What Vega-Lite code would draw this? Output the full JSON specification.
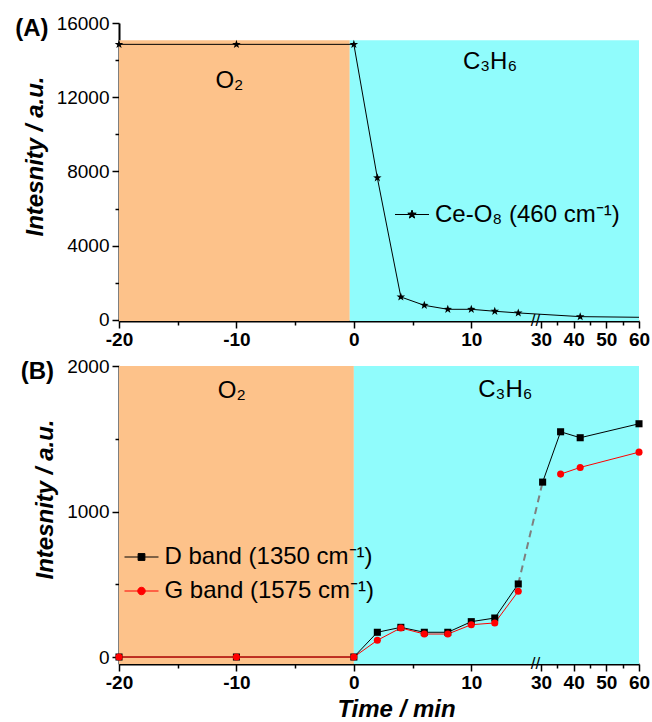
{
  "$schema": "https://vega.github.io/schema/vega-lite/v6.json",
  "padding": {"left": 15, "top": 14, "right": 2, "bottom": 0},
  "spacing": 8,
  "resolve": {
    "scale": {"color": "independent", "stroke": "independent"},
    "legend": {"color": "independent", "stroke": "independent"}
  },
  "config": {
    "view": {"stroke": null},
    "font": "Liberation Sans",
    "axis": {
      "domainColor": "black", "domainWidth": 2,
      "tickColor": "black", "tickWidth": 1.5,
      "labelColor": "black", "labelFont": "Liberation Sans", "labelFontSize": 19,
      "labelPadding": 3, "labelOverlap": false, "labelFlush": false,
      "titleColor": "black", "titleFont": "Liberation Sans", "titleFontSize": 24,
      "titleFontWeight": "bold", "titleFontStyle": "italic",
      "grid": false
    },
    "legend": {"labelFont": "Liberation Sans", "labelFontSize": 24, "labelColor": "black", "padding": 0, "rowPadding": 0, "labelLimit": 400, "symbolStrokeWidth": 1, "labelOffset": 5.5},
    "title": {"font": "Liberation Sans", "fontSize": 24, "fontWeight": "bold", "color": "black", "anchor": "start", "frame": "bounds", "offset": -27}
  },
  "datasets": {
    "phaseA": [
      {"gas": "O2", "t": -20, "t2": -0.35, "v": 15070},
      {"gas": "C3H6", "t": -0.35, "t2": 60, "v": 15070}
    ],
    "gasA": [
      {"label": "O₂", "t": -10.6, "v": 12900},
      {"label": "C₃H₆", "t": 11.6, "v": 13880}
    ],
    "breakA": [{"t": 22.5, "v": -55}],
    "ceo8": [
      {"t": -20, "v": 14850, "series": "Ce-O₈ (460 cm⁻¹)"},
      {"t": -10, "v": 14850, "series": "Ce-O₈ (460 cm⁻¹)"},
      {"t": 0, "v": 14850, "series": "Ce-O₈ (460 cm⁻¹)"},
      {"t": 2, "v": 7660, "series": "Ce-O₈ (460 cm⁻¹)"},
      {"t": 4, "v": 1240, "series": "Ce-O₈ (460 cm⁻¹)"},
      {"t": 6, "v": 790, "series": "Ce-O₈ (460 cm⁻¹)"},
      {"t": 8, "v": 575, "series": "Ce-O₈ (460 cm⁻¹)"},
      {"t": 10, "v": 575, "series": "Ce-O₈ (460 cm⁻¹)"},
      {"t": 12, "v": 470, "series": "Ce-O₈ (460 cm⁻¹)"},
      {"t": 14, "v": 380, "series": "Ce-O₈ (460 cm⁻¹)"},
      {"t": 42, "v": 180, "series": "Ce-O₈ (460 cm⁻¹)"},
      {"t": 60, "v": 145, "series": "Ce-O₈ (460 cm⁻¹)"}
    ],
    "phaseB": [
      {"gas": "O2", "t": -20, "t2": 0},
      {"gas": "C3H6", "t": 0, "t2": 60}
    ],
    "gasB": [
      {"label": "O₂", "t": -10.4, "v": 1830},
      {"label": "C₃H₆", "t": 12.9, "v": 1837}
    ],
    "breakB": [{"t": 22.5, "v": -48}],
    "bands": [
      {"t": -20, "v": 0, "series": "D band (1350 cm⁻¹)", "part": "a"},
      {"t": -10, "v": 0, "series": "D band (1350 cm⁻¹)", "part": "a"},
      {"t": 0, "v": 0, "series": "D band (1350 cm⁻¹)", "part": "a"},
      {"t": 2, "v": 170, "series": "D band (1350 cm⁻¹)", "part": "a"},
      {"t": 4, "v": 204, "series": "D band (1350 cm⁻¹)", "part": "a"},
      {"t": 6, "v": 170, "series": "D band (1350 cm⁻¹)", "part": "a"},
      {"t": 8, "v": 170, "series": "D band (1350 cm⁻¹)", "part": "a"},
      {"t": 10, "v": 243, "series": "D band (1350 cm⁻¹)", "part": "a"},
      {"t": 12, "v": 268, "series": "D band (1350 cm⁻¹)", "part": "a"},
      {"t": 14, "v": 502, "series": "D band (1350 cm⁻¹)", "part": "a"},
      {"t": 30.5, "v": 1202, "series": "D band (1350 cm⁻¹)", "part": "b"},
      {"t": 36, "v": 1548, "series": "D band (1350 cm⁻¹)", "part": "b"},
      {"t": 42, "v": 1507, "series": "D band (1350 cm⁻¹)", "part": "b"},
      {"t": 60, "v": 1603, "series": "D band (1350 cm⁻¹)", "part": "b"},
      {"t": -20, "v": 0, "series": "G band (1575 cm⁻¹)", "part": "a"},
      {"t": -10, "v": 0, "series": "G band (1575 cm⁻¹)", "part": "a"},
      {"t": 0, "v": 0, "series": "G band (1575 cm⁻¹)", "part": "a"},
      {"t": 2, "v": 115, "series": "G band (1575 cm⁻¹)", "part": "a"},
      {"t": 4, "v": 200, "series": "G band (1575 cm⁻¹)", "part": "a"},
      {"t": 6, "v": 158, "series": "G band (1575 cm⁻¹)", "part": "a"},
      {"t": 8, "v": 158, "series": "G band (1575 cm⁻¹)", "part": "a"},
      {"t": 10, "v": 222, "series": "G band (1575 cm⁻¹)", "part": "a"},
      {"t": 12, "v": 234, "series": "G band (1575 cm⁻¹)", "part": "a"},
      {"t": 14, "v": 452, "series": "G band (1575 cm⁻¹)", "part": "a"},
      {"t": 36, "v": 1257, "series": "G band (1575 cm⁻¹)", "part": "b"},
      {"t": 42, "v": 1303, "series": "G band (1575 cm⁻¹)", "part": "b"},
      {"t": 60, "v": 1408, "series": "G band (1575 cm⁻¹)", "part": "b"}
    ]
  },
  "vconcat": [
    {
      "width": 520,
      "height": 298,
      "title": {"text": "(A)", "dx": -8},
      "encoding": {
        "x": {
          "field": "t", "type": "quantitative",
          "scale": {"domain": [-20, 15, 30, 60], "range": [0, 411, 422, 520], "nice": false, "zero": false},
          "axis": {
            "title": null,
            "values": [-20, -15, -10, -5, 0, 5, 10, 30, 35, 40, 45, 50, 55, 60],
            "labelExpr": "datum.value % 10 === 0 ? '' + datum.value : ''",
            "tickSize": {"condition": {"test": "datum.value % 10 === 0", "value": 7}, "value": 4},
            "labelFontWeight": "bold", "labelPadding": 2
          }
        },
        "y": {
          "field": "v", "type": "quantitative",
          "scale": {"domain": [-55, 16000], "nice": false, "zero": false},
          "axis": {
            "title": "Intesnity / a.u.",
            "values": [0, 2000, 4000, 6000, 8000, 10000, 12000, 14000, 16000],
            "labelExpr": "datum.value % 4000 === 0 ? '' + datum.value : ''",
            "tickSize": {"condition": {"test": "datum.value % 4000 === 0", "value": 7}, "value": 4},
            "titlePadding": 9, "titleY": 133
          }
        }
      },
      "layer": [
        {
          "data": {"name": "phaseA"},
          "mark": {"type": "rect"},
          "encoding": {
            "x2": {"field": "t2"},
            "y2": {"datum": -55},
            "color": {"condition": {"test": "datum.gas === 'O2'", "value": "#FDC28A"}, "value": "#90FCFC"}
          }
        },
        {
          "data": {"name": "gasA"},
          "mark": {"type": "text", "fontSize": 24, "font": "Liberation Sans", "color": "black", "baseline": "middle", "align": "center"},
          "encoding": {"text": {"field": "label"}}
        },
        {
          "data": {"name": "ceo8"},
          "mark": {"type": "line", "color": "black", "strokeWidth": 1}
        },
        {
          "data": {"name": "ceo8"},
          "transform": [{"filter": "datum.t < 60"}],
          "mark": {"type": "point", "filled": true, "opacity": 1, "size": 81,
            "shape": "M0,-1L0.235,-0.324L0.951,-0.309L0.38,0.124L0.588,0.809L0,0.4L-0.588,0.809L-0.38,0.124L-0.951,-0.309L-0.235,-0.324Z"},
          "encoding": {
            "color": {
              "field": "series", "type": "nominal",
              "scale": {"domain": ["Ce-O₈ (460 cm⁻¹)"], "range": ["black"]},
              "legend": {
                "title": null, "orient": "none", "legendX": 275.5, "legendY": 174,
                "symbolSize": 1156,
                "symbolStrokeColor": "black",
                "symbolFillColor": "black",
                "symbolType": "M-1,0L1,0M0,-0.26L0.061,-0.084L0.247,-0.08L0.099,0.032L0.153,0.21L0,0.104L-0.153,0.21L-0.099,0.032L-0.247,-0.08L-0.061,-0.084Z"
              }
            }
          }
        },
        {
          "data": {"name": "breakA"},
          "mark": {"type": "text", "text": "//", "fontSize": 17, "font": "Liberation Sans", "color": "black", "baseline": "middle", "align": "center"}
        }
      ]
    },
    {
      "width": 520,
      "height": 298,
      "title": {"text": "(B)", "dx": -13},
      "resolve": {"scale": {"color": "independent"}, "legend": {"color": "independent"}},
      "encoding": {
        "x": {
          "field": "t", "type": "quantitative",
          "scale": {"domain": [-20, 15, 30, 60], "range": [0, 411, 422, 520], "nice": false, "zero": false},
          "axis": {
            "title": "Time / min",
            "values": [-20, -15, -10, -5, 0, 5, 10, 30, 35, 40, 45, 50, 55, 60],
            "labelExpr": "datum.value % 10 === 0 ? '' + datum.value : ''",
            "tickSize": {"condition": {"test": "datum.value % 10 === 0", "value": 7}, "value": 4},
            "labelFontWeight": "bold", "labelPadding": 2, "titlePadding": 5, "titleX": 277
          }
        },
        "y": {
          "field": "v", "type": "quantitative",
          "scale": {"domain": [-48, 2000], "nice": false, "zero": false},
          "axis": {
            "title": "Intesnity / a.u.",
            "values": [0, 500, 1000, 1500, 2000],
            "labelExpr": "datum.value % 1000 === 0 ? '' + datum.value : ''",
            "tickSize": {"condition": {"test": "datum.value % 1000 === 0", "value": 7}, "value": 4},
            "titlePadding": 9, "titleY": 133
          }
        }
      },
      "layer": [
        {
          "data": {"name": "phaseB"},
          "mark": {"type": "rect"},
          "encoding": {
            "x2": {"field": "t2"},
            "y": null,
            "color": {"condition": {"test": "datum.gas === 'O2'", "value": "#FDC28A"}, "value": "#90FCFC"}
          }
        },
        {
          "data": {"name": "gasB"},
          "mark": {"type": "text", "fontSize": 24, "font": "Liberation Sans", "color": "black", "baseline": "middle", "align": "center"},
          "encoding": {"text": {"field": "label"}}
        },
        {
          "data": {"name": "bands"},
          "mark": {"type": "line", "strokeWidth": 1},
          "encoding": {
            "stroke": {"field": "series", "type": "nominal", "scale": {"domain": ["D band (1350 cm⁻¹)", "G band (1575 cm⁻¹)"], "range": ["black", "red"]}, "legend": null},
            "detail": {"field": "part"}
          }
        },
        {
          "data": {"name": "bands"},
          "transform": [{"filter": "indexof(datum.series, 'D band') === 0 && (datum.t === 14 || datum.t === 30.5)"}],
          "mark": {"type": "line", "color": "#7F7F7F", "strokeWidth": 2, "strokeDash": [7, 5]}
        },
        {
          "data": {"name": "bands"},
          "transform": [{"filter": "indexof(datum.series, 'D band') === 0"}],
          "mark": {"type": "point", "shape": "square", "filled": true, "opacity": 1, "size": 50},
          "encoding": {
            "color": {
              "field": "series", "type": "nominal",
              "scale": {"domain": ["D band (1350 cm⁻¹)"], "range": ["black"]},
              "legend": {
                "title": null, "orient": "none", "legendX": 5, "legendY": 173.5,
                "symbolSize": 1156,
                "symbolStrokeColor": "black",
                "symbolFillColor": "black",
                "symbolType": "M-1,0L1,0M-0.2,-0.2L0.2,-0.2L0.2,0.2L-0.2,0.2Z"
              }
            }
          }
        },
        {
          "data": {"name": "bands"},
          "transform": [{"filter": "indexof(datum.series, 'G band') === 0"}],
          "mark": {"type": "point", "shape": "circle", "filled": true, "opacity": 1, "size": 50},
          "encoding": {
            "color": {
              "field": "series", "type": "nominal",
              "scale": {"domain": ["G band (1575 cm⁻¹)"], "range": ["red"]},
              "legend": {
                "title": null, "orient": "none", "legendX": 5, "legendY": 207.5,
                "symbolSize": 1156,
                "symbolStrokeColor": "red",
                "symbolFillColor": "red",
                "symbolType": "M-1,0L1,0M-0.22,0A0.22,0.22,0,1,1,0.22,0A0.22,0.22,0,1,1,-0.22,0Z"
              }
            }
          }
        },
        {
          "data": {"name": "breakB"},
          "mark": {"type": "text", "text": "//", "fontSize": 17, "font": "Liberation Sans", "color": "black", "baseline": "middle", "align": "center"}
        }
      ]
    }
  ]
}
